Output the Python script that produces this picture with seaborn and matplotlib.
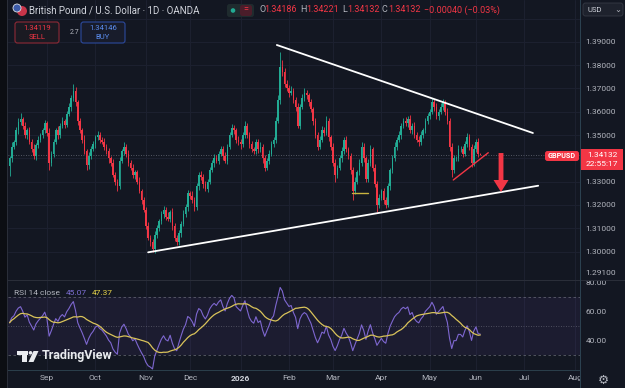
import numpy as np
import pandas as pd
import matplotlib
matplotlib.use("Agg")
import matplotlib.pyplot as plt
import seaborn as sns
from matplotlib.patches import Rectangle, FancyBboxPatch, Polygon, Circle
from matplotlib.transforms import IdentityTransform

# GBPUSD 1D (OANDA), one candle per business day, 7 Aug 2025 -> 3 Jun 2026
start_date = "2025-08-07"

# closes in pips above 1.30000
closes_pips = [
    400, 450, 470, 520, 555, 570, 540, 500, 520, 470,
    440, 410, 455, 480, 500, 520, 550, 510, 380, 420,
    470, 520, 500, 540, 560, 545, 590, 620, 660, 690,
    640, 560, 520, 480, 430, 370, 410, 440, 460, 490,
    500, 480, 470, 450, 430, 400, 380, 330, 300, 280,
    390, 430, 450, 420, 380, 360, 330, 340, 300, 260,
    220, 180, 110, 60, 40, 10, 70, 100, 130, 160,
    180, 150, 140, 170, 110, 60, 40, 80, 120, 160,
    190, 250, 240, 220, 190, 280, 330, 320, 290, 270,
    300, 350, 380, 400, 390, 420, 440, 410, 390, 450,
    500, 530, 520, 480, 470, 460, 500, 540, 500, 460,
    440, 430, 470, 440, 450, 400, 360, 390, 420, 460,
    480, 560, 650, 790, 770, 720, 700, 680, 690, 650,
    620, 540, 620, 660, 680, 670, 640, 610, 560, 500,
    450, 480, 520, 510, 560, 490, 450, 380, 330, 360,
    400, 430, 480, 440, 410, 350, 260, 300, 340, 380,
    450, 400, 310, 380, 440, 360, 290, 200, 230, 260,
    220, 200, 280, 350, 400, 450, 480, 500, 540, 560,
    550, 570, 520, 540, 500, 480, 470, 500, 520, 560,
    580, 600, 640, 620, 580, 600, 620, 640, 600, 560,
    450, 350, 400, 400, 440, 440, 420, 460, 490, 450,
    380, 440, 470, 417.2, 413.2,
]

# wick lengths in pips above / below the body
wick_up_pips = [
    12, 18, 10, 15, 20, 24, 8, 14, 10, 16,
    12, 20, 10, 14, 8, 12, 16, 10, 18, 12,
    14, 10, 20, 12, 16, 10, 14, 18, 12, 30,
    16, 10, 14, 12, 18, 10, 16, 12, 14, 10,
    18, 12, 10, 16, 12, 14, 10, 18, 12, 10,
    16, 12, 20, 10, 14, 12, 16, 10, 12, 18,
    10, 14, 12, 16, 10, 12, 18, 14, 10, 16,
    14, 12, 18, 10, 16, 12, 10, 14, 12, 18,
    16, 14, 10, 18, 12, 14, 10, 16, 12, 14,
    10, 14, 12, 18, 16, 10, 14, 12, 16, 10,
    14, 18, 12, 10, 16, 12, 14, 18, 10, 12,
    16, 10, 14, 12, 18, 10, 14, 12, 16, 14,
    12, 16, 20, 66, 30, 18, 14, 16, 20, 12,
    14, 18, 12, 16, 20, 14, 12, 16, 10, 14,
    12, 16, 18, 14, 20, 12, 10, 14, 16, 12,
    14, 18, 12, 16, 10, 14, 12, 18, 10, 16,
    20, 14, 12, 16, 18, 10, 14, 12, 16, 10,
    14, 12, 16, 10, 14, 18, 12, 16, 10, 14,
    18, 12, 16, 10, 14, 12, 16, 18, 12, 14,
    16, 12, 20, 14, 16, 12, 18, 14, 12, 16,
    12, 14, 16, 10, 18, 14, 12, 16, 20, 14,
    12, 16, 14, 16, 5,
]
wick_dn_pips = [
    40, 14, 10, 12, 16, 10, 14, 12, 18, 10,
    14, 12, 16, 10, 12, 14, 10, 16, 30, 12,
    14, 10, 16, 12, 10, 14, 12, 10, 16, 12,
    14, 18, 12, 16, 10, 20, 14, 12, 10, 16,
    12, 14, 10, 16, 12, 18, 14, 10, 16, 22,
    12, 10, 14, 16, 12, 10, 14, 18, 12, 10,
    16, 12, 14, 10, 18, 12, 16, 14, 10, 12,
    14, 16, 10, 12, 18, 14, 12, 10, 16, 12,
    10, 14, 16, 12, 18, 10, 14, 12, 16, 10,
    14, 12, 10, 16, 12, 14, 10, 18, 12, 14,
    12, 10, 16, 14, 12, 18, 10, 14, 12, 16,
    14, 12, 10, 16, 14, 18, 16, 12, 14, 10,
    12, 14, 10, 16, 18, 14, 12, 16, 10, 14,
    16, 12, 14, 10, 12, 16, 14, 10, 18, 12,
    14, 10, 12, 16, 10, 14, 16, 12, 30, 14,
    12, 16, 10, 14, 12, 18, 40, 14, 12, 10,
    14, 16, 12, 10, 14, 16, 12, 30, 14, 10,
    16, 12, 10, 14, 12, 10, 14, 12, 16, 10,
    12, 16, 10, 14, 12, 10, 16, 12, 14, 10,
    14, 12, 10, 16, 12, 14, 10, 12, 16, 14,
    18, 30, 14, 12, 10, 14, 16, 12, 10, 14,
    16, 12, 14, 10, 0,
]

first_open = 1.3365
last_ohlc = [1.34186, 1.34221, 1.34132, 1.34132]
ohlc_text = ["1.34186", "1.34221", "1.34132", "1.34132"]
change_text = "\u22120.00040 (\u22120.03%)"
sell_price, buy_price, spread = "1.34119", "1.34146", "2.7"
rsi_now, rsi_ma_now = "45.07", "47.37"
clock_text = "22:55:17"
rsi_len = 14
rsi_seed = 0.0025   # starting average up/down move (neutral RSI before the first bar)

price_ticks = [1.291, 1.30, 1.31, 1.32, 1.33, 1.34, 1.35, 1.36, 1.37, 1.38, 1.39, 1.40]
rsi_ticks = [40, 60, 80]

# chart drawings (bar index, price)
upper_trend = [(121.5, 1.38863), (237.9, 1.35086)]
lower_trend = [(63.0, 1.29966), (240.3, 1.32824)]
small_trend = [(201.7, 1.33069), (217.6, 1.34240)]
yellow_mark = [(155.5, 1.32498), (163.0, 1.32498)]
arrow_x, arrow_top, arrow_neck, arrow_tip = 223.4, 1.34227, 1.33069, 1.32554

# ---- build candles + RSI ----
closes = 1.3 + np.array(closes_pips, dtype=float) / 1e4
opens = np.r_[first_open, closes[:-1]]
highs = np.maximum(opens, closes) + np.array(wick_up_pips) / 1e4
lows = np.minimum(opens, closes) - np.array(wick_dn_pips) / 1e4
opens[-1], highs[-1], lows[-1], closes[-1] = last_ohlc
n = len(closes)

df = pd.DataFrame({"i": np.arange(n), "open": opens, "high": highs,
                   "low": lows, "close": closes})
df["up"] = df["close"] >= df["open"]

# Wilder RSI
delta = np.diff(np.r_[first_open, closes])
ag, al = rsi_seed, rsi_seed
rsi = []
for d in delta:
    ag = (ag * (rsi_len - 1) + max(d, 0)) / rsi_len
    al = (al * (rsi_len - 1) + max(-d, 0)) / rsi_len
    rsi.append(100 - 100 / (1 + ag / al))
df["rsi"] = rsi
df["rsi_ma"] = df["rsi"].rolling(rsi_len, min_periods=1).mean()

dates = pd.bdate_range(start_date, periods=262)
month_pos = [k for k in range(1, len(dates)) if dates[k].month != dates[k - 1].month]
month_lab = ["2026" if dates[k].month == 1 else dates[k].strftime("%b") for k in month_pos]

# ---- style ----
bg = "#131722"
txt = "#b2b5be"
up_col, dn_col = "#22ab94", "#f23645"
grid_col = "#1d2130"
sns.set_theme(style="dark", rc={"axes.facecolor": bg, "figure.facecolor": bg,
                                "axes.edgecolor": bg, "axes.grid": False})
plt.rcParams["font.family"] = ["Roboto", "DejaVu Sans"]

W, H = 625, 388
fig = plt.figure(figsize=(W / 100, H / 100), dpi=100)
ax = fig.add_axes([8 / W, 1 - 280 / H, 572 / W, 280 / H])
ax2 = fig.add_axes([8 / W, 1 - 370 / H, 572 / W, 90 / H], sharex=ax)
for a in (ax, ax2):
    a.set_facecolor(bg)
    for s in a.spines.values():
        s.set_visible(False)
    for p in month_pos:
        a.axvline(p, color=grid_col, lw=0.7, zorder=0)

# price pane
for p in price_ticks[1:]:
    ax.axhline(p, color=grid_col, lw=0.7, zorder=0)
cols = np.where(df["up"], up_col, dn_col)
ax.vlines(df["i"], df["low"], df["high"], colors=cols, lw=0.6, zorder=2)
body_lo = np.minimum(df["open"], df["close"])
body_h = np.maximum(np.abs(df["close"] - df["open"]), 0.00004)
ax.bar(df["i"], body_h, bottom=body_lo, width=0.72, color=cols, lw=0, zorder=3)

ax.axhline(last_ohlc[3], color="#6a6d78", lw=0.6, ls=(0, (1, 2)), zorder=1)
ax.plot(*zip(*upper_trend), color="white", lw=1.3, zorder=4)
ax.plot(*zip(*lower_trend), color="white", lw=1.3, zorder=4)
ax.plot(*zip(*small_trend), color=dn_col, lw=1.0, zorder=4)
ax.plot(*zip(*yellow_mark), color="#c9b440", lw=1.0, zorder=4)
ax.add_patch(Polygon([(arrow_x - 1.1, arrow_top), (arrow_x + 1.1, arrow_top),
                      (arrow_x + 1.1, arrow_neck), (arrow_x + 3.4, arrow_neck),
                      (arrow_x, arrow_tip), (arrow_x - 3.4, arrow_neck),
                      (arrow_x - 1.1, arrow_neck)], closed=True, fc=dn_col, ec="none", zorder=5))

ax.set_xlim(-0.7, 259.3)
ax.set_ylim(1.28778, 1.40794)
ax.set_yticks(price_ticks)
# 1.34000 sits under the last-price tag, so its label is left blank
ax.set_yticklabels(["" if abs(p - 1.34) < 1e-9 else f"{p:.5f}" for p in price_ticks])
ax.tick_params(axis="y", left=False, labelleft=False, right=True, labelright=True,
               length=0, labelsize=6, labelcolor=txt, pad=4)
ax.tick_params(axis="x", bottom=False, labelbottom=False)

# RSI pane
ax2.axhspan(30, 70, color="#7e57c2", alpha=0.09, lw=0, zorder=0)
for lv, ls in [(70, (0, (3, 3))), (30, (0, (3, 3))), (50, (0, (1, 2)))]:
    ax2.axhline(lv, color="#787b86", lw=0.6, ls=ls, alpha=0.7, zorder=1)
sns.lineplot(data=df, x="i", y="rsi", ax=ax2, color="#7e67d0", lw=0.8, zorder=3)
sns.lineplot(data=df, x="i", y="rsi_ma", ax=ax2, color="#d9c35a", lw=0.9, zorder=4)
ax2.set_ylim(20, 82)
ax2.set_yticks(rsi_ticks)
ax2.set_yticklabels([f"{v:.2f}" for v in rsi_ticks])
ax2.set_xticks(month_pos)
ax2.set_xticklabels(month_lab)
ax2.set_xlabel("")
ax2.set_ylabel("")
ax2.tick_params(axis="y", left=False, labelleft=False, right=True, labelright=True,
                length=0, labelsize=6, labelcolor=txt, pad=4)
ax2.tick_params(axis="x", length=0, labelsize=6, labelcolor=txt, pad=3.5)
for lab in ax2.get_xticklabels():
    if lab.get_text() == "2026":
        lab.set_fontweight("bold")
        lab.set_color("#d1d4dc")
ax2.set_xlim(-0.7, 259.3)

# ---- overlay chrome (pixel coordinates, y from top) ----
T = IdentityTransform()


def px_text(x, y, s, **kw):
    kw.setdefault("va", "center")
    fig.text(x, H - y, s, transform=T, **kw)


def px_rect(x, y, w, h, **kw):
    fig.add_artist(Rectangle((x, H - y - h), w, h, transform=T, **kw))


def px_box(x, y, w, h, **kw):
    fig.add_artist(FancyBboxPatch((x, H - y - h), w, h, boxstyle="round,pad=0,rounding_size=2.5",
                                  transform=T, **kw))


px_rect(0, 0, 7, H, fc="#0c0e13", ec="none", zorder=6)
px_rect(7, 0, 1, H, fc="#2a2e39", ec="none", zorder=6)
px_rect(8, 279.5, 617, 1, fc="#2a2e39", ec="none", zorder=6)
px_rect(8, 369.5, 572, 1, fc="#2a3e4a", ec="none", zorder=6)
px_rect(580, 0, 1, H, fc="#2b4150", ec="none", zorder=6)
px_rect(581, 0, 44, 21, fc=bg, ec="none", zorder=8)
px_rect(581, 371, 44, 17, fc=bg, ec="none", zorder=6)
px_text(603, 380, "\u2699", fontsize=9, color=txt, ha="center", family="DejaVu Sans", zorder=7)

# header
fig.add_artist(Circle((22, H - 11), 5, transform=T, fc="#c8354a", ec="none", zorder=7))
fig.add_artist(Circle((17, H - 8), 4, transform=T, fc="#3c5ba8", ec="#dfe3ea", lw=0.6, zorder=8))
px_text(29, 10, "British Pound / U.S. Dollar \u00b7 1D \u00b7 OANDA", fontsize=7, color="#d1d4dc", zorder=7)
px_box(227, 4, 27, 13, fc="#1f2b2e", ec="none", zorder=7)
fig.add_artist(Circle((233, H - 10.5), 2.3, transform=T, fc=up_col, ec="none", zorder=8))
px_box(240, 5, 12, 11, fc="#4a1d2a", ec="none", zorder=8)
px_text(246, 10, "=", fontsize=6.5, color=dn_col, ha="center", zorder=9)
for lx, vx, letter, val in [(259, 264, "O", ohlc_text[0]), (300, 306, "H", ohlc_text[1]),
                            (342, 347, "L", ohlc_text[2]), (382, 388, "C", ohlc_text[3])]:
    px_text(lx, 10, letter, fontsize=6.5, color=txt, zorder=7)
    px_text(vx, 10, val, fontsize=6.5, color=dn_col, zorder=7)
px_text(424, 10, change_text, fontsize=6.5, color=dn_col, zorder=7)

px_box(15, 22, 44, 21, fc="#1b1a22", ec="#8e2a36", lw=0.8, zorder=7)
px_text(37, 27.5, sell_price, fontsize=5.5, color=dn_col, ha="center", zorder=8)
px_text(37, 37, "SELL", fontsize=5.5, color=dn_col, ha="center", zorder=8)
px_text(70, 32, spread, fontsize=5, color=txt, zorder=8)
px_box(81, 22, 44, 21, fc="#181c2b", ec="#2c4a9e", lw=0.8, zorder=7)
px_text(103, 27.5, buy_price, fontsize=5.5, color="#5b8def", ha="center", zorder=8)
px_text(103, 37, "BUY", fontsize=5.5, color="#5b8def", ha="center", zorder=8)

px_box(583, 3, 40, 13, fc="#1e222d", ec="#363a45", lw=0.6, zorder=9)
px_text(587, 9.5, "USD", fontsize=5.5, color="#d1d4dc", zorder=10)
px_text(614, 9, "\u2304", fontsize=6, color=txt, family="DejaVu Sans", zorder=10)

# last price tags
px_box(545, 151, 34, 10, fc=dn_col, ec="none", zorder=9)
px_text(562, 156, "GBPUSD", fontsize=5.2, color="white", ha="center", weight="bold", zorder=10)
px_rect(581, 149, 42, 21, fc=dn_col, ec="none", zorder=9)
px_text(602, 155, f"{last_ohlc[3]:.5f}", fontsize=6, color="white", ha="center", zorder=10)
px_text(602, 164.5, clock_text, fontsize=6, color="white", ha="center", zorder=10)

# RSI legend
px_text(14, 293, "RSI 14 close", fontsize=6, color=txt, zorder=7)
px_text(66, 293, rsi_now, fontsize=6, color="#7e6fd6", zorder=7)
px_text(92, 293, rsi_ma_now, fontsize=6, color="#e8d64a", zorder=7)

# TradingView watermark
px_rect(17, 351, 11, 3.5, fc="#e9ebef", ec="none", zorder=7)
px_rect(22, 351, 5, 11, fc="#e9ebef", ec="none", zorder=7)
fig.add_artist(Circle((30.5, H - 352.8), 1.8, transform=T, fc="#e9ebef", ec="none", zorder=7))
fig.add_artist(Polygon([(33.5, H - 351), (38.5, H - 351), (33.5, H - 362), (28.5, H - 362)],
                       closed=True, transform=T, fc="#e9ebef", ec="none", zorder=7))
px_text(42, 356, "TradingView", fontsize=9, weight="bold", color="#e9ebef", zorder=7)

fig.savefig("out.png", dpi=100, facecolor=bg)
